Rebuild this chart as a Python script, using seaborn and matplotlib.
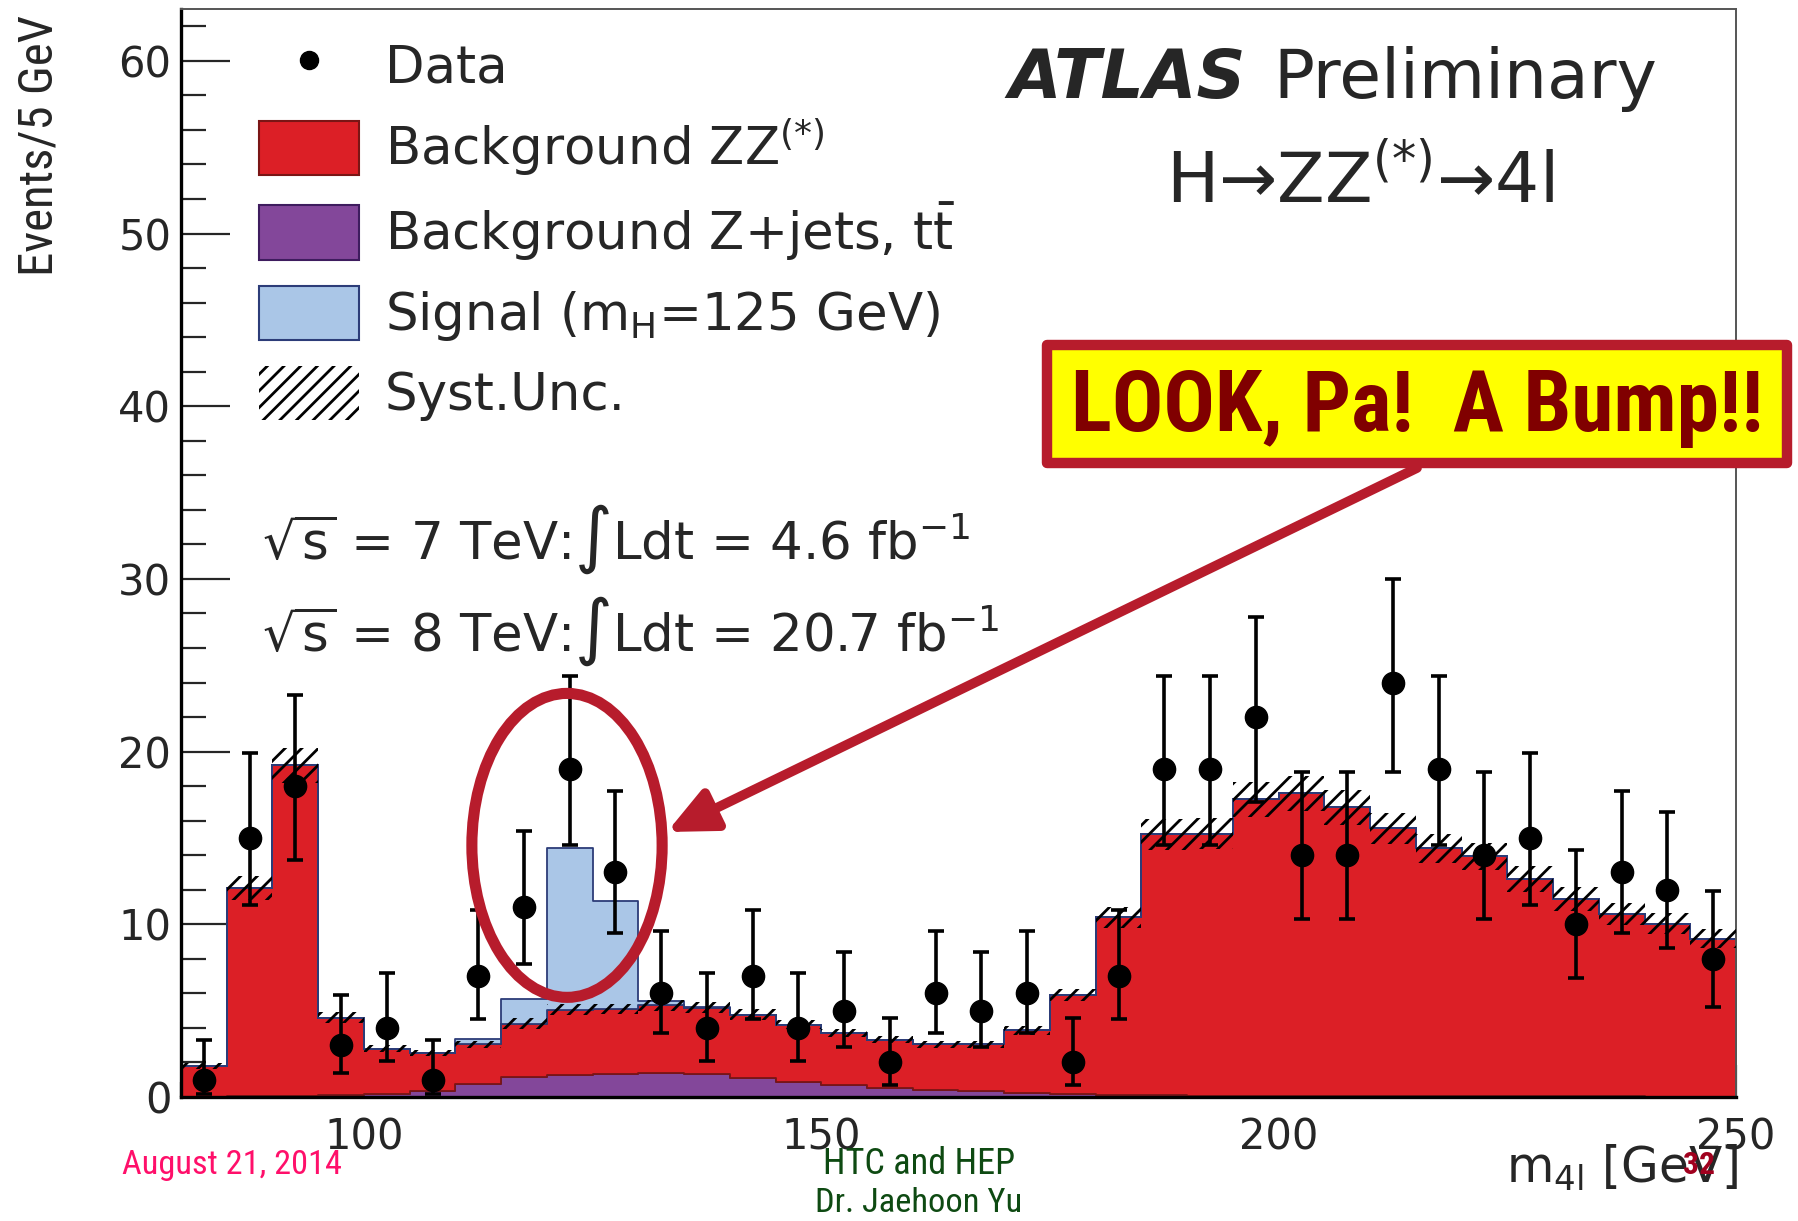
import os
import numpy as np
import pandas as pd
import matplotlib
matplotlib.use("Agg")
import matplotlib.pyplot as plt
import seaborn as sns
from matplotlib.patches import Patch, Ellipse, Rectangle, FancyArrowPatch
from matplotlib.lines import Line2D
from matplotlib.ticker import MultipleLocator
from matplotlib import font_manager
from matplotlib.font_manager import FontProperties

# ---------------------------------------------------------------- data
# four-lepton invariant mass, 5 GeV bins from 80 to 250 GeV
bin_edges = list(range(80, 255, 5))

data_counts = [1, 15, 18, 3, 4, 1, 7, 11, 19, 13, 6, 4, 7, 4, 5, 2, 6,
               5, 6, 2, 7, 19, 19, 22, 14, 14, 24, 19, 14, 15, 10, 13, 12, 8]
data_low = [0.17, 11.1, 13.7, 1.4, 2.1, 0.17, 4.5, 7.7, 14.6, 9.5, 3.7, 2.1,
            4.5, 2.1, 2.9, 0.7, 3.7, 2.9, 3.7, 0.7, 4.5, 14.6, 14.6, 17.1,
            10.3, 10.3, 18.8, 14.6, 10.3, 11.1, 6.9, 9.5, 8.6, 5.2]
data_high = [3.3, 19.9, 23.3, 5.9, 7.2, 3.3, 10.8, 15.4, 24.4, 17.7, 9.6, 7.2,
             10.8, 7.2, 8.4, 4.6, 9.6, 8.4, 9.6, 4.6, 10.8, 24.4, 24.4, 27.8,
             18.8, 18.8, 30.0, 24.4, 18.8, 19.9, 14.3, 17.7, 16.5, 11.9]

bkg_zz = [1.78, 12.07, 19.15, 4.5, 2.65, 2.2, 2.31, 3.12, 3.76, 3.76, 3.91,
          3.87, 3.65, 3.32, 3.03, 2.8, 2.66, 2.7, 3.63, 5.7, 10.28, 15.1,
          15.17, 17.17, 17.52, 16.72, 15.5, 14.35, 13.89, 12.57, 11.42,
          10.57, 10.01, 9.13]
bkg_zjets = [0.02, 0.03, 0.05, 0.1, 0.15, 0.35, 0.74, 1.13, 1.3, 1.34, 1.39,
             1.31, 1.12, 0.87, 0.68, 0.52, 0.39, 0.35, 0.23, 0.19, 0.12, 0.1,
             0.08, 0.07, 0.06, 0.05, 0.05, 0.04, 0.04, 0.03, 0.03, 0.03,
             0.02, 0.02]
signal = [0, 0, 0, 0, 0, 0.02, 0.3, 1.4, 9.35, 6.25, 0.25, 0.05, 0, 0, 0, 0,
          0, 0, 0, 0, 0, 0, 0, 0, 0, 0, 0, 0, 0, 0, 0, 0, 0, 0]
syst_unc = [0.15, 0.7, 1.0, 0.3, 0.2, 0.2, 0.2, 0.3, 0.3, 0.3, 0.3, 0.3, 0.3,
            0.25, 0.25, 0.2, 0.2, 0.2, 0.25, 0.35, 0.6, 0.9, 0.9, 1.0, 1.0,
            1.0, 0.9, 0.85, 0.8, 0.75, 0.7, 0.65, 0.6, 0.55]

process_labels = ["Signal", "ZZ", "Zjets"]
legend_labels = ["Data",
                 r"Background ZZ$^{(*)}$",
                 r"Background Z+jets, $\mathrm{t\bar{t}}$",
                 r"Signal (m$_{\mathrm{H}}$=125 GeV)",
                 "Syst.Unc."]

# ---------------------------------------------------------------- style
sns.set_style("ticks")
plt.rcParams["font.family"] = ["DejaVu Sans"]
plt.rcParams["mathtext.fontset"] = "dejavusans"
plt.rcParams["hatch.linewidth"] = 2.0
plt.rcParams["hatch.color"] = "black"


def find_condensed(bold):
    """Path of an installed narrow/condensed sans face, or None."""
    found = []
    for f in font_manager.fontManager.ttflist:
        tag = (f.name + " " + os.path.basename(f.fname)).lower()
        if f.style != "normal":
            continue
        if "mono" in tag or ("serif" in tag and "sans" not in tag):
            continue
        if "narrow" not in tag and "condensed" not in tag:
            continue
        if "extra" in tag or "ultra" in tag or "semi" in tag:
            continue
        w = f.weight if isinstance(f.weight, int) else \
            font_manager.weight_dict.get(f.weight, 400)
        if bold and not (600 <= w <= 760):
            continue
        if not bold and not (350 <= w < 560):
            continue
        found.append(f.fname)
    order = ("liberationsansnarrow", "arialn", "robotocondensed",
             "opensans", "dejavusanscondensed", "notosans")
    for key in order:
        for path in found:
            base = os.path.basename(path).lower().replace("-", "").replace("_", "")
            if key in base:
                return path
    return found[0] if found else None


def narrow_props(bold=False):
    path = find_condensed(bold)
    if path:
        return FontProperties(fname=path)
    return FontProperties(family="Liberation Sans",
                          weight="bold" if bold else "normal")


palette = {"ZZ": "#DC1F26", "Zjets": "#83479A", "Signal": "#AAC6E7"}
edge_cols = {"ZZ": "#7A1515", "Zjets": "#3E1C5E", "Signal": "#2C3C78"}

W, H = 1799, 1221
fig = plt.figure(figsize=(W / 100, H / 100), dpi=100)
ax = fig.add_axes([181 / W, (H - 1097) / H, (1736 - 181) / W, (1097 - 9) / H])
renderer = fig.canvas.get_renderer()


def fit_length(text, target_px, vertical=False):
    """Scale a text's font size so that it spans target_px pixels."""
    bb = text.get_window_extent(renderer)
    cur = bb.height if vertical else bb.width
    text.set_fontsize(text.get_fontsize() * target_px / cur)


edges = np.array(bin_edges, dtype=float)
centers = (edges[:-1] + edges[1:]) / 2

# ---------------------------------------------------------------- stacked MC
mc = pd.DataFrame({
    "m4l": np.tile(centers, 3),
    "events": np.concatenate([signal, bkg_zz, bkg_zjets]),
    "process": np.repeat(process_labels, len(centers)),
})
sns.histplot(data=mc, x="m4l", weights="events", hue="process",
             hue_order=process_labels, multiple="stack", bins=bin_edges,
             element="step", fill=True, alpha=1, palette=palette,
             linewidth=1.3, legend=False, ax=ax)

# outline each stacked layer in a darker shade of its fill
for coll in ax.collections:
    fc = coll.get_facecolor()
    if len(fc) == 0:
        continue
    for name, col in palette.items():
        if np.allclose(fc[0][:3], matplotlib.colors.to_rgb(col), atol=0.02):
            coll.set_edgecolor(edge_cols[name])

# systematic band around the total background
total_bkg = np.array(bkg_zz) + np.array(bkg_zjets)
band_lo = total_bkg - np.array(syst_unc)
band_hi = total_bkg + np.array(syst_unc)
ax.fill_between(edges, np.r_[band_lo, band_lo[-1]], np.r_[band_hi, band_hi[-1]],
                step="post", facecolor="none", edgecolor="black",
                hatch="//", linewidth=0, zorder=3)

# ---------------------------------------------------------------- data
counts = np.array(data_counts, dtype=float)
yerr = [counts - np.array(data_low), np.array(data_high) - counts]
ax.errorbar(centers, counts, yerr=yerr, fmt="o", color="black", ms=16,
            elinewidth=2.6, capsize=5.5, capthick=2.6, zorder=6)

# ---------------------------------------------------------------- axes
ax.set_xlim(80, 250)
ax.set_ylim(0, 63)
ax.set_xlabel("")
ax.set_ylabel("")
ax.xaxis.set_major_locator(MultipleLocator(50))
ax.xaxis.set_minor_locator(MultipleLocator(10))
ax.yaxis.set_major_locator(MultipleLocator(10))
ax.yaxis.set_minor_locator(MultipleLocator(2))
ax.tick_params(axis="y", which="major", direction="in", length=35, width=1.6,
               labelsize=30, pad=7, right=False)
ax.tick_params(axis="y", which="minor", direction="in", length=18, width=1.6,
               right=False)
ax.tick_params(axis="x", which="major", direction="in", length=23, width=1.6,
               labelsize=30, pad=14, top=False)
ax.tick_params(axis="x", which="minor", direction="in", length=11, width=1.6,
               top=False)
for side in ("left", "bottom"):
    ax.spines[side].set_linewidth(2.4)
    ax.spines[side].set_color("black")
for side in ("top", "right"):
    ax.spines[side].set_linewidth(1.4)
    ax.spines[side].set_color("#555555")
    ax.spines[side].set_visible(True)

# ---------------------------------------------------------------- legend
handles = [
    Line2D([], [], marker="o", color="black", ls="none", ms=13),
    Patch(facecolor=palette["ZZ"], edgecolor=edge_cols["ZZ"], lw=1.5),
    Patch(facecolor=palette["Zjets"], edgecolor=edge_cols["Zjets"], lw=1.5),
    Patch(facecolor=palette["Signal"], edgecolor=edge_cols["Signal"], lw=1.5),
    Patch(facecolor="white", edgecolor="black", hatch="//", lw=0),
]
fig.legend(handles, legend_labels, loc="upper left",
           bbox_to_anchor=(259 / W, 1 - 38 / H), frameon=False,
           fontsize=37, handlelength=1.95, handleheight=1.25,
           handletextpad=0.5, labelspacing=0.44, borderpad=0,
           borderaxespad=0)

# ---------------------------------------------------------------- labels
fig.text(262 / W, 1 - 559 / H,
         r"$\sqrt{\mathrm{s}}$ = 7 TeV:$\int$Ldt = 4.6 fb$^{\mathregular{-1}}$",
         fontsize=37, ha="left", va="baseline")
fig.text(262 / W, 1 - 651 / H,
         r"$\sqrt{\mathrm{s}}$ = 8 TeV:$\int$Ldt = 20.7 fb$^{\mathregular{-1}}$",
         fontsize=37, ha="left", va="baseline")

atlas = fig.text(1008 / W, 1 - 98 / H, "ATLAS", fontsize=49,
                 fontweight="bold", fontstyle="italic", ha="left",
                 va="baseline")
ax.annotate("Preliminary", xy=(1, 0), xycoords=atlas, xytext=(20, 0),
            textcoords="offset points", fontsize=49, ha="left", va="bottom",
            annotation_clip=False)
fig.text(1360 / W, 1 - 203 / H, "H→ZZ$^{(*)}$→4l", fontsize=50,
         ha="center", va="baseline")

fig.text(1738 / W, 1 - 1183 / H, r"m$_{\mathregular{4l}}$ [GeV]",
         fontsize=35, ha="right", va="baseline")
ylab = fig.text(40 / W, 1 - 145 / H, "Events/5 GeV", rotation=90,
                fontproperties=narrow_props(), fontsize=37,
                ha="center", va="center")
fit_length(ylab, 261, vertical=True)

# footer
foot = [
    ("August 21, 2014", 122, 1174, "left", "#FF0F6A", 220, False),
    ("HTC and HEP", 919, 1174, "center", "#0E4A12", 192, False),
    ("Dr. Jaehoon Yu", 919, 1212, "center", "#0E4A12", 207, False),
    ("32", 1699, 1174, "center", "#A0001E", 32, True),
]
for label, fx, fy, ha, col, span, bold in foot:
    t = fig.text(fx / W, 1 - fy / H, label, fontproperties=narrow_props(bold),
                 fontsize=27, color=col, ha=ha, va="baseline", zorder=30)
    fit_length(t, span)

# ---------------------------------------------------------------- callout
ax.add_patch(Ellipse((122.2, 14.57), 20.8, 17.6, fill=False,
                     edgecolor="#B71C2C", lw=8, zorder=10, clip_on=False))

arrow = FancyArrowPatch((1417 / W, 1 - 468 / H), (667 / W, 1 - 832 / H),
                        transform=fig.transFigure,
                        arrowstyle="-|>,head_length=1.3,head_width=0.6",
                        mutation_scale=22, color="#B71C2C", lw=7,
                        shrinkA=0, shrinkB=0, zorder=15)
fig.add_artist(arrow)

box = Rectangle((1047 / W, 1 - 463 / H), 740 / W, 118 / H,
                transform=fig.transFigure, facecolor="#FFFF00",
                edgecolor="#B71C2C", lw=7.5, joinstyle="round", zorder=20)
fig.add_artist(box)
bump = fig.text(1417 / W, 1 - 408 / H, "LOOK, Pa!  A Bump!!",
                fontproperties=narrow_props(True), fontsize=60,
                color="#800000", ha="center", va="center", zorder=21)
fit_length(bump, 694)

fig.savefig("out.png", dpi=100)
